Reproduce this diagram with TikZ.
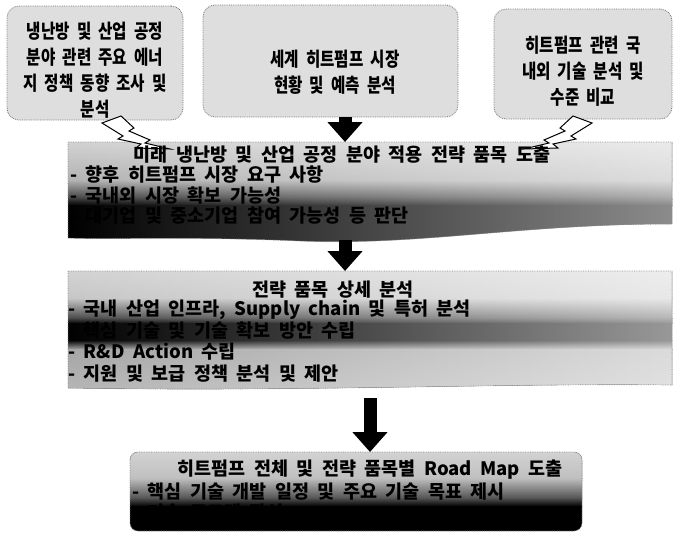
\documentclass[tikz,border=0pt]{standalone}
\usepackage{fontspec}
\newfontfamily\kr[WordSpace=2]{Noto Sans CJK KR}
\newfontfamily\krtop[WordSpace=2,FakeStretch=0.8]{Noto Sans CJK KR}
\usetikzlibrary{arrows.meta,fadings}
\tikzfading[name=lightright, left color=transparent!100, middle color=transparent!100, right color=transparent!0]
\tikzset{
  topbox/.style={draw=black!55, densely dotted, line width=0.8pt, fill=black!13, rounded corners=12pt},
  toptext/.style={align=center, inner sep=0pt, font=\krtop\bfseries\fontsize{19.5}{26}\selectfont},
  bolt/.style={draw=black, line width=1pt, fill=white, line join=miter},
  blockarrow/.style={draw=black, line width=13pt, -{Triangle[width=34pt,length=20pt]}},
  title/.style={font=\kr\bfseries\fontsize{18.5}{21}\selectfont, inner sep=0pt},
  item/.style={font=\kr\bfseries\fontsize{18.5}{21}\selectfont, inner sep=0pt, anchor=west},
  bigedge/.style={draw=black!45, densely dotted, line width=0.7pt},
  band/.style args={#1/#2}{top color=#1, bottom color=#2, draw=none},
}
\begin{document}
\begin{tikzpicture}[x=1pt,y=-1pt]
\useasboundingbox (0,0) rectangle (674,533);
% top boxes
\node[topbox, minimum width=176pt, minimum height=114pt] (boxA) at (95,63) {};
\node[toptext] (txtA) at (95,70) {냉난방 및 산업 공정\\분야 관련 주요 에너\\지 정책 동향 조사 및\\분석};
\node[topbox, minimum width=255pt, minimum height=112pt] (boxB) at (330.5,61) {};
\node[toptext] (txtB) at (335,72) {세계 히트펌프 시장\\현황 및 예측 분석};
\node[topbox, minimum width=178pt, minimum height=110pt] (boxC) at (583,64) {};
\node[toptext] (txtC) at (583,71) {히트펌프 관련 국\\내외 기술 분석 및\\수준 비교};
% big box 1
\begin{scope}
\clip (68,142) -- (672,142) -- (672,224) .. controls (520,224) and (420,246) .. (300,241) .. controls (180,236) and (110,240) .. (68,238) -- cycle;
\fill[band=black!17/black!30] (60,140) rectangle (680,180.5);
\fill[band=black!30/black!75] (60,180) rectangle (680,198.5);
\fill[band=black!75/black] (60,198) rectangle (680,205.5);
\fill[black] (60,205) rectangle (680,250);
\fill[white, path fading=lightright, fill opacity=0.55] (68,140) rectangle (674,250);
\end{scope}
\draw[bigedge] (68,142) -- (672,142) -- (672,224) .. controls (520,224) and (420,246) .. (300,241) .. controls (180,236) and (110,240) .. (68,238) -- cycle;
\coordinate (b1top) at (345,142);
\coordinate (b1bot) at (345,240);
% lightning bolts
\path[bolt] (102,123) -- (121,116) -- (134,128) -- (129,131) -- (150,140) -- (145,143) -- (170,149) -- (136,148) -- (141,144) -- (118,139) -- (123,136) -- cycle;
\path[bolt] (592,123) -- (573,116) -- (560,128) -- (565,131) -- (544,140) -- (549,143) -- (524,149) -- (558,148) -- (553,144) -- (576,139) -- (571,136) -- cycle;
\node[title] (t1) at (342,155) {미래 냉난방 및 산업 공정 분야 적용 전략 품목 도출};
\node[item] (t1a) at (70,175) {- 향후 히트펌프 시장 요구 사항};
\node[item] (t1b) at (70,196) {- 국내외 시장 확보 가능성};
\node[item] (t1c) at (70,216) {- 대기업 및 중소기업 참여 가능성 등 판단};
% big box 2
\begin{scope}
\clip (68,271) -- (672,271) -- (672,385) .. controls (500,383) and (300,392) .. (68,388) -- cycle;
\fill[band=black!17/black!22] (60,269) rectangle (680,298.5);
\fill[band=black!22/black!72] (60,298) rectangle (680,318.5);
\fill[band=black!72/black] (60,318) rectangle (680,323.5);
\fill[black] (60,323) rectangle (680,340.5);
\fill[band=black/black!35] (60,340) rectangle (680,349.5);
\fill[band=black!35/black!28] (60,349) rectangle (680,395);
\fill[white, path fading=lightright, fill opacity=0.6] (68,269) rectangle (674,395);
\end{scope}
\draw[bigedge] (68,271) -- (672,271) -- (672,385) .. controls (500,383) and (300,392) .. (68,388) -- cycle;
\coordinate (b2top) at (345,271);
\coordinate (b2bot) at (370,398);
\node[title] (t2) at (333,290) {전략 품목 상세 분석};
\node[item] (t2a) at (68,310) {- 국내 산업 인프라, Supply chain 및 특허 분석};
\node[item] (t2b) at (68,331) {- 핵심 기술 및 기술 확보 방안 수립};
\node[item] (t2c) at (68,352) {- R\&D Action 수립};
\node[item] (t2d) at (68,374) {- 지원 및 보급 정책 분석 및 제안};
% big box 3
\begin{scope}
\clip[rounded corners=8pt] (130,452) rectangle (582,531);
\fill[band=black!17/black!25] (125,450) rectangle (590,478.5);
\fill[band=black!25/black!68] (125,478) rectangle (590,498.5);
\fill[band=black!68/black] (125,498) rectangle (590,506.5);
\fill[black] (125,506) rectangle (590,535);
\end{scope}
\draw[bigedge, rounded corners=8pt] (130,452) rectangle (582,531);
\coordinate (b3top) at (370,452);
\node[title] (t3) at (370,470) {히트펌프 전체 및 전략 품목별 Road Map 도출};
\node[item] (t3a) at (132,492) {- 핵심 기술 개발 일정 및 주요 기술 목표 제시};
\node[item] (t3b) at (132,513) {- 기술 로드맵 작성};
% arrows
\draw[blockarrow] (boxB.south -| b1top) -- (b1top);
\draw[blockarrow] (b1bot) -- (b2top);
\draw[blockarrow] (b2bot) -- (b3top);
\end{tikzpicture}
\end{document}
